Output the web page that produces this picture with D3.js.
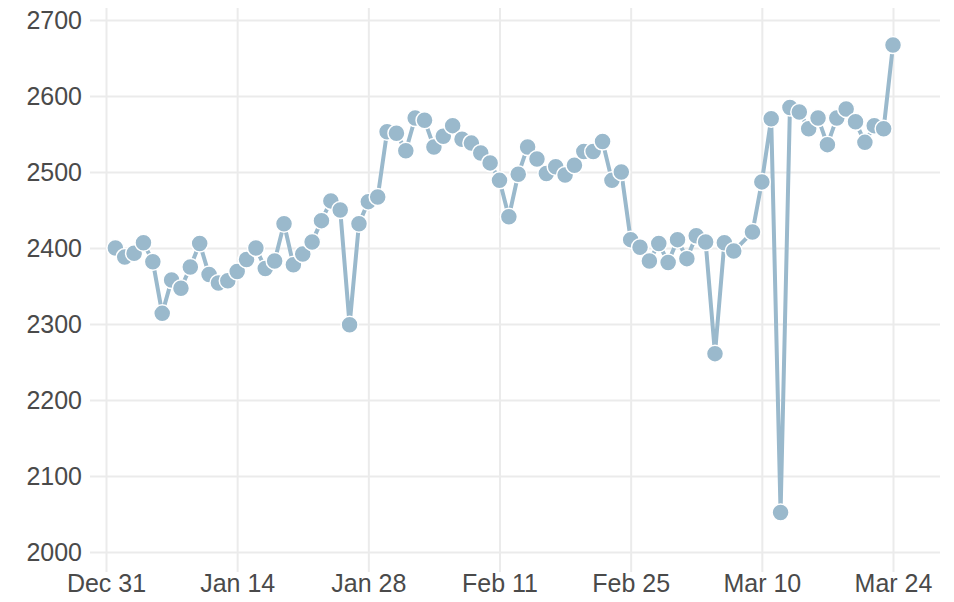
<!DOCTYPE html>
<html>
<head>
<meta charset="utf-8">
<script src="https://cdn.jsdelivr.net/npm/d3@7"></script>
<style>
  body { margin: 0; background: #fff; }
  .tick text { font-family: "Liberation Sans", Arial, sans-serif; fill: #4a4a4a; }
</style>
</head>
<body>
<div id="chart"></div>
<script>
var width = 954;
var height = 602;

// first day of data, last day, and a day with no reading
var startDay = "2020-01-01";
var endDay = "2020-03-24";
var skippedDays = ["2020-03-08"];

// daily values, one per date (skipped day left out)
var values = [
  2400, 2388, 2393, 2407, 2382, 2314, 2358, 2347, 2375, 2406,
  2365, 2354, 2357, 2369, 2385, 2400, 2373, 2383, 2432, 2378,
  2392, 2408, 2436, 2462, 2450, 2299, 2432, 2461, 2467, 2553,
  2551, 2528, 2571, 2568, 2533, 2547, 2561, 2543, 2538, 2525,
  2512, 2489, 2441, 2497, 2533, 2517, 2498, 2507, 2496, 2509,
  2527, 2527, 2540, 2489, 2500, 2411, 2401, 2383, 2406, 2381,
  2411, 2386, 2416, 2408, 2261, 2407, 2396, 2421, 2487, 2570,
  2052, 2585, 2579, 2557, 2571, 2536, 2571, 2583, 2566, 2539,
  2561, 2557, 2667
];

var xTickDays = ["2019-12-31", "2020-01-14", "2020-01-28", "2020-02-11", "2020-02-25", "2020-03-10", "2020-03-24"];
var xTickLabels = ["Dec 31", "Jan 14", "Jan 28", "Feb 11", "Feb 25", "Mar 10", "Mar 24"];
var yTicks = [2000, 2100, 2200, 2300, 2400, 2500, 2600, 2700];

var parse = d3.utcParse("%Y-%m-%d");
var fmt = d3.utcFormat("%Y-%m-%d");

var dates = d3.utcDay.range(parse(startDay), d3.utcDay.offset(parse(endDay), 1))
  .filter(function(d) { return skippedDays.indexOf(fmt(d)) < 0; });

var data = dates.map(function(d, i) { return { date: d, value: values[i] }; });

var x = d3.scaleUtc()
    .domain([parse(xTickDays[0]), parse(xTickDays[xTickDays.length - 1])])
    .range([106, 893]);

var y = d3.scaleLinear()
    .domain([2000, 2700])
    .range([552, 20]);

var svg = d3.select("#chart").append("svg")
    .attr("width", width)
    .attr("height", height);

// vertical grid + x axis labels
var xAxis = svg.append("g")
    .attr("transform", "translate(0,572)")
    .call(d3.axisBottom(x)
      .tickValues(xTickDays.map(parse))
      .tickSize(564)
      .tickFormat(function(d, i) { return xTickLabels[i]; }));
xAxis.select(".domain").remove();
xAxis.selectAll(".tick line")
    .attr("transform", "translate(0,-564)")
    .attr("y2", 564)
    .attr("stroke", "#ebebeb")
    .attr("stroke-width", 2);
xAxis.selectAll(".tick text")
    .attr("y", 0)
    .attr("dy", "0.71em")
    .attr("transform", "translate(0,2)")
    .style("font-size", "25px");

// horizontal grid + y axis labels
var yAxis = svg.append("g")
    .attr("transform", "translate(90,0)")
    .call(d3.axisLeft(y)
      .tickValues(yTicks)
      .tickFormat(d3.format("d"))
      .tickSize(-850)
      .tickPadding(8));
yAxis.select(".domain").remove();
yAxis.selectAll(".tick line")
    .attr("stroke", "#ebebeb")
    .attr("stroke-width", 2);
yAxis.selectAll(".tick text")
    .style("font-size", "25px");

var line = d3.line()
    .x(function(d) { return x(d.date); })
    .y(function(d) { return y(d.value); });

svg.append("path")
    .datum(data)
    .attr("fill", "none")
    .attr("stroke", "#9ab9cc")
    .attr("stroke-width", 4)
    .attr("stroke-linejoin", "round")
    .attr("d", line);

svg.selectAll(".dot")
    .data(data)
    .enter().append("circle")
      .attr("class", "dot")
      .attr("cx", function(d) { return x(d.date); })
      .attr("cy", function(d) { return y(d.value); })
      .attr("r", 8.5)
      .attr("fill", "#9ab9cc")
      .attr("stroke", "#fff")
      .attr("stroke-width", 1.5);
</script>
</body>
</html>
